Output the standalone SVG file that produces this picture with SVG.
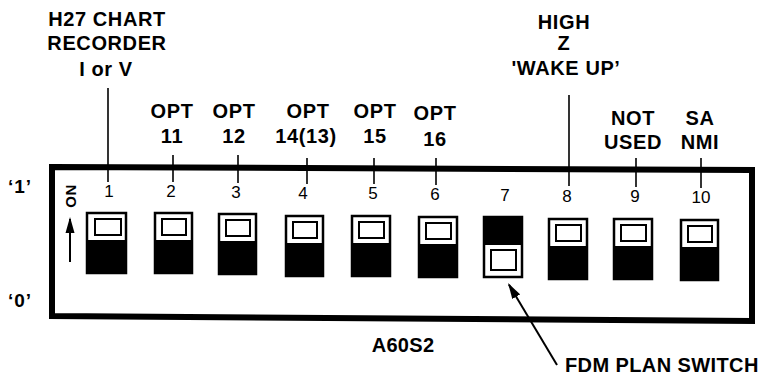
<svg xmlns="http://www.w3.org/2000/svg" width="762" height="376" viewBox="0 0 762 376">
<style>
.lb{font-family:"Liberation Sans",Arial,sans-serif;font-weight:bold;font-size:20px;letter-spacing:0.6px;fill:#000;text-anchor:middle}
.num{font-family:"Liberation Sans",Arial,sans-serif;font-size:17px;fill:#000;text-anchor:middle}
.tick{stroke:#000;stroke-width:1.6;fill:none}
.body{fill:#fff;stroke:#000;stroke-width:2.5}
.blk{fill:#000}
.win{fill:#fff;stroke:#000;stroke-width:2}
.arr{stroke:#000;stroke-width:2;fill:none}
</style>
<defs>
<marker id="ah" markerUnits="userSpaceOnUse" markerWidth="17" markerHeight="10" refX="14" refY="5" orient="auto">
<path d="M0,0.5 L16,5 L0,9.5 z" fill="#000"/>
</marker>
</defs>
<rect width="762" height="376" fill="#fff"/>

<g id="board">
<path d="M52,167 L752,170 L752,321 L52,316 Z" fill="none" stroke="#000" stroke-width="6" stroke-linejoin="miter"/>
</g>

<g id="connectors">
<line class="tick" x1="108" y1="88" x2="108" y2="182"/>
<line class="tick" x1="173" y1="155" x2="173" y2="182"/>
<line class="tick" x1="238" y1="155" x2="238" y2="183"/>
<line class="tick" x1="307" y1="158" x2="307" y2="184"/>
<line class="tick" x1="374" y1="158" x2="374" y2="184"/>
<line class="tick" x1="436" y1="158" x2="436" y2="185"/>
<line class="tick" x1="569" y1="95" x2="569" y2="186"/>
<line class="tick" x1="636" y1="158" x2="636" y2="187"/>
<line class="tick" x1="701" y1="158" x2="701" y2="188"/>
<line class="arr" x1="70" y1="262" x2="70" y2="219" marker-end="url(#ah)"/>
<line class="arr" x1="557" y1="365" x2="509" y2="284.7" marker-end="url(#ah)"/>
</g>

<g id="label-sw1">
<text class="lb" x="107" y="26">H27 CHART</text>
<text class="lb" x="107" y="50">RECORDER</text>
<text class="lb" x="106" y="76">I or V</text>
</g>
<g id="label-sw2"><text class="lb" x="172" y="118">OPT</text><text class="lb" x="172" y="143">11</text></g>
<g id="label-sw3"><text class="lb" x="234" y="118">OPT</text><text class="lb" x="234" y="143">12</text></g>
<g id="label-sw4"><text class="lb" x="308" y="118">OPT</text><text class="lb" x="306" y="143">14(13)</text></g>
<g id="label-sw5"><text class="lb" x="375" y="118">OPT</text><text class="lb" x="375" y="143">15</text></g>
<g id="label-sw6"><text class="lb" x="435" y="120">OPT</text><text class="lb" x="435" y="146">16</text></g>
<g id="label-sw8">
<text class="lb" x="564" y="29">HIGH</text>
<text class="lb" x="564" y="50">Z</text>
<text class="lb" x="566" y="75">'WAKE UP’</text>
</g>
<g id="label-sw9"><text class="lb" x="633" y="125">NOT</text><text class="lb" x="633" y="149">USED</text></g>
<g id="label-sw10"><text class="lb" x="700" y="125">SA</text><text class="lb" x="700" y="149">NMI</text></g>

<g id="state-labels">
<text class="lb" x="20" y="193" style="font-size:19px;letter-spacing:1px">‘1’</text>
<text class="lb" x="20" y="307" style="font-size:19px;letter-spacing:1px">‘0’</text>
<text class="lb" transform="translate(76,196) rotate(-90)" x="0" y="0" style="font-size:15px;letter-spacing:0.5px">ON</text>
</g>

<g id="numbers">
<text class="num" x="109" y="197">1</text>
<text class="num" x="171" y="197">2</text>
<text class="num" x="236" y="198">3</text>
<text class="num" x="303" y="199">4</text>
<text class="num" x="373" y="199">5</text>
<text class="num" x="435" y="200">6</text>
<text class="num" x="505" y="201">7</text>
<text class="num" x="567" y="202">8</text>
<text class="num" x="635" y="202">9</text>
<text class="num" x="701" y="203">10</text>
</g>

<g id="sw1"><rect class="body" x="87" y="213" width="39" height="60"/><rect class="blk" x="87" y="240" width="39" height="33"/><rect class="win" x="95" y="219" width="26" height="16"/></g>
<g id="sw2"><rect class="body" x="155" y="213" width="37" height="60"/><rect class="blk" x="155" y="240" width="37" height="33"/><rect class="win" x="162" y="219" width="24" height="16"/></g>
<g id="sw3"><rect class="body" x="219" y="214" width="37" height="60"/><rect class="blk" x="219" y="241" width="37" height="33"/><rect class="win" x="226" y="220" width="24" height="16"/></g>
<g id="sw4"><rect class="body" x="286" y="216" width="37" height="60"/><rect class="blk" x="286" y="243" width="37" height="33"/><rect class="win" x="293" y="222" width="24" height="16"/></g>
<g id="sw5"><rect class="body" x="352" y="216" width="38" height="60"/><rect class="blk" x="352" y="243" width="38" height="33"/><rect class="win" x="359" y="222" width="25" height="16"/></g>
<g id="sw6"><rect class="body" x="419" y="217" width="38" height="60"/><rect class="blk" x="419" y="244" width="38" height="33"/><rect class="win" x="426" y="223" width="25" height="16"/></g>
<g id="sw7"><rect class="body" x="484" y="217" width="38" height="60"/><rect class="blk" x="484" y="217" width="38" height="28"/><rect class="win" x="491" y="250" width="25" height="20"/></g>
<g id="sw8"><rect class="body" x="549" y="219" width="38" height="60"/><rect class="blk" x="549" y="246" width="38" height="33"/><rect class="win" x="556" y="225" width="25" height="16"/></g>
<g id="sw9"><rect class="body" x="614" y="219" width="38" height="60"/><rect class="blk" x="614" y="246" width="38" height="33"/><rect class="win" x="621" y="225" width="25" height="16"/></g>
<g id="sw10"><rect class="body" x="681" y="220" width="37" height="60"/><rect class="blk" x="681" y="247" width="37" height="33"/><rect class="win" x="688" y="226" width="24" height="16"/></g>

<g id="title"><text class="lb" x="403" y="352" style="letter-spacing:0.3px">A60S2</text></g>
<g id="fdm-label"><text class="lb" x="565" y="372" style="text-anchor:start;letter-spacing:0.4px">FDM PLAN SWITCH</text></g>
</svg>
